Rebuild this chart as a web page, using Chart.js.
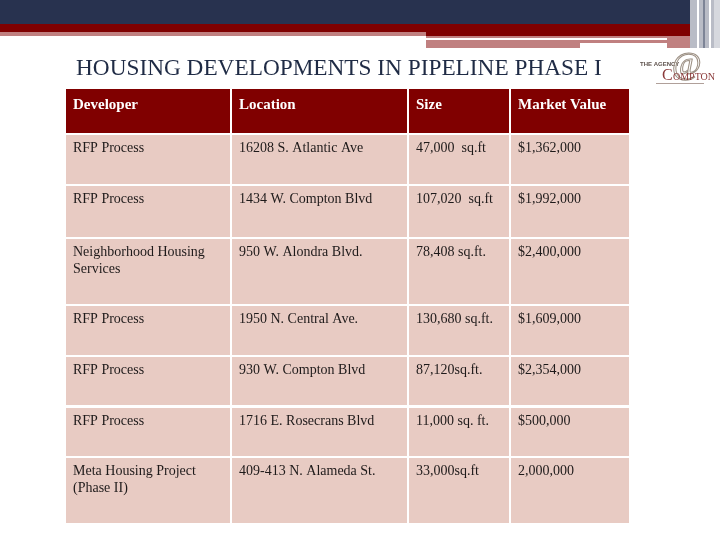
<!DOCTYPE html>
<html><head><meta charset="utf-8">
<script src="https://cdn.jsdelivr.net/npm/chart.js@4/dist/chart.umd.min.js"></script>
<style>html,body{margin:0;padding:0;background:#fff}#wrap{width:720px;height:540px}</style>
</head><body><div id="wrap"><canvas id="c" width="720" height="540"></canvas></div>
<script>
// ---- data ----
const title = 'HOUSING DEVELOPMENTS IN PIPELINE PHASE I';
const columns = ['Developer', 'Location', 'Size', 'Market Value'];
const developers = ['RFP Process', 'RFP Process', 'Neighborhood Housing Services', 'RFP Process', 'RFP Process', 'RFP Process', 'Meta Housing Project (Phase II)'];
const locations = ['16208 S. Atlantic Ave', '1434 W. Compton Blvd', '950 W. Alondra Blvd.', '1950 N. Central Ave.', '930 W. Compton Blvd', '1716 E. Rosecrans Blvd', '409-413 N. Alameda St.'];
const sizes = ['47,000  sq.ft', '107,020  sq.ft', '78,408 sq.ft.', '130,680 sq.ft.', '87,120sq.ft.', '11,000 sq. ft.', '33,000sq.ft'];
const marketValues = ['$1,362,000', '$1,992,000', '$2,400,000', '$1,609,000', '$2,354,000', '$500,000', '2,000,000'];

// ---- layout (in scale units = page pixels) ----
const colEdges = [[66, 230], [232, 407], [409, 509], [511, 629]];
const rowEdges = [[89, 133], [135, 184], [186, 237], [239, 304], [306, 355], [357, 405], [408, 456], [458, 523]];

const tablePlugin = {
  id: 'tablePlugin',
  beforeDraw(chart) {
    const ctx = chart.ctx, X = chart.scales.x, Y = chart.scales.y;
    const px = v => X.getPixelForValue(v), py = v => Y.getPixelForValue(v);
    const rect = (x0, y0, x1, y1, c) => { ctx.fillStyle = c; ctx.fillRect(px(x0), py(y0), px(x1) - px(x0), py(y1) - py(y0)); };
    ctx.save();
    // top decoration
    rect(0, 0, 720, 24, '#28324f');
    rect(0, 24, 697, 32, '#7f0000');
    rect(0, 32, 426, 36, '#c08080');
    rect(426, 32, 697, 36, '#7f0000');
    rect(426, 36, 697, 48, '#c08080');
    rect(426, 38, 667, 40, '#ffffff');
    rect(580, 43, 667, 48, '#ffffff');
    rect(690, 0, 720, 48, '#b9bcc6');
    rect(697, 0, 699, 48, '#ffffff');
    rect(703, 0, 705, 48, '#7d8496');
    rect(709, 0, 711, 48, '#ffffff');
    rect(714, 0, 720, 48, '#d6d8de');
    // title
    ctx.fillStyle = '#1f2b45';
    ctx.textBaseline = 'alphabetic';
    ctx.font = '20px "Liberation Serif"';
    const tw = ctx.measureText(title).width;
    const fs = 20 * 526 / tw;
    ctx.font = fs.toFixed(2) + 'px "Liberation Serif"';
    ctx.fillText(title, px(76), py(75));
    // logo
    ctx.fillStyle = '#5e524d';
    ctx.font = 'bold 6px "Liberation Sans Narrow", "Liberation Sans"';
    ctx.fillText('THE AGENCY', px(640), py(66));
    ctx.strokeStyle = '#9b8f83'; ctx.lineWidth = 1;
    ctx.font = '32px "Liberation Serif"';
    ctx.strokeText('@', px(672), py(74));
    ctx.fillStyle = '#8b3a3a';
    ctx.font = '16px "Liberation Serif"';
    ctx.fillText('C', px(662), py(80));
    ctx.font = '10px "Liberation Serif"';
    ctx.fillText('OMPTON', px(673), py(80));
    ctx.fillStyle = '#b0a09a';
    ctx.fillRect(px(656), py(83), 48, 1);
    // table
    const rows = [columns].concat(developers.map((d, i) => [d, locations[i], sizes[i], marketValues[i]]));
    rows.forEach((row, r) => {
      const [y0, y1] = rowEdges[r];
      row.forEach((txt, c) => {
        const [x0, x1] = colEdges[c];
        rect(x0, y0, x1, y1, r === 0 ? '#800000' : '#e8cbc3');
        ctx.fillStyle = r === 0 ? '#ffffff' : '#1e1a1a';
        ctx.font = r === 0 ? 'bold 15px "Liberation Serif"' : '14px "Liberation Serif"';
        const maxW = px(x1) - px(x0) - 12;
        const words = txt.split(' ');
        const lines = []; let cur = '';
        words.forEach(w => {
          const t = cur ? cur + ' ' + w : w;
          if (cur && ctx.measureText(t).width > maxW) { lines.push(cur); cur = w; } else cur = t;
        });
        lines.push(cur);
        lines.forEach((ln, k) => {
          const yy = r === 0 ? 109 : y0 + 17 + k * 17;
          ctx.fillText(ln, px(x0 + 7), py(yy));
        });
      });
    });
    ctx.restore();
  }
};

new Chart(document.getElementById('c'), {
  type: 'scatter',
  data: { datasets: [{ data: [], pointRadius: 0 }] },
  options: {
    responsive: false, animation: false,
    layout: { padding: 0 },
    plugins: { legend: { display: false }, tooltip: { enabled: false } },
    scales: {
      x: { type: 'linear', min: 0, max: 720, display: false },
      y: { type: 'linear', min: 0, max: 540, reverse: true, display: false }
    }
  },
  plugins: [tablePlugin]
});
</script></body></html>
